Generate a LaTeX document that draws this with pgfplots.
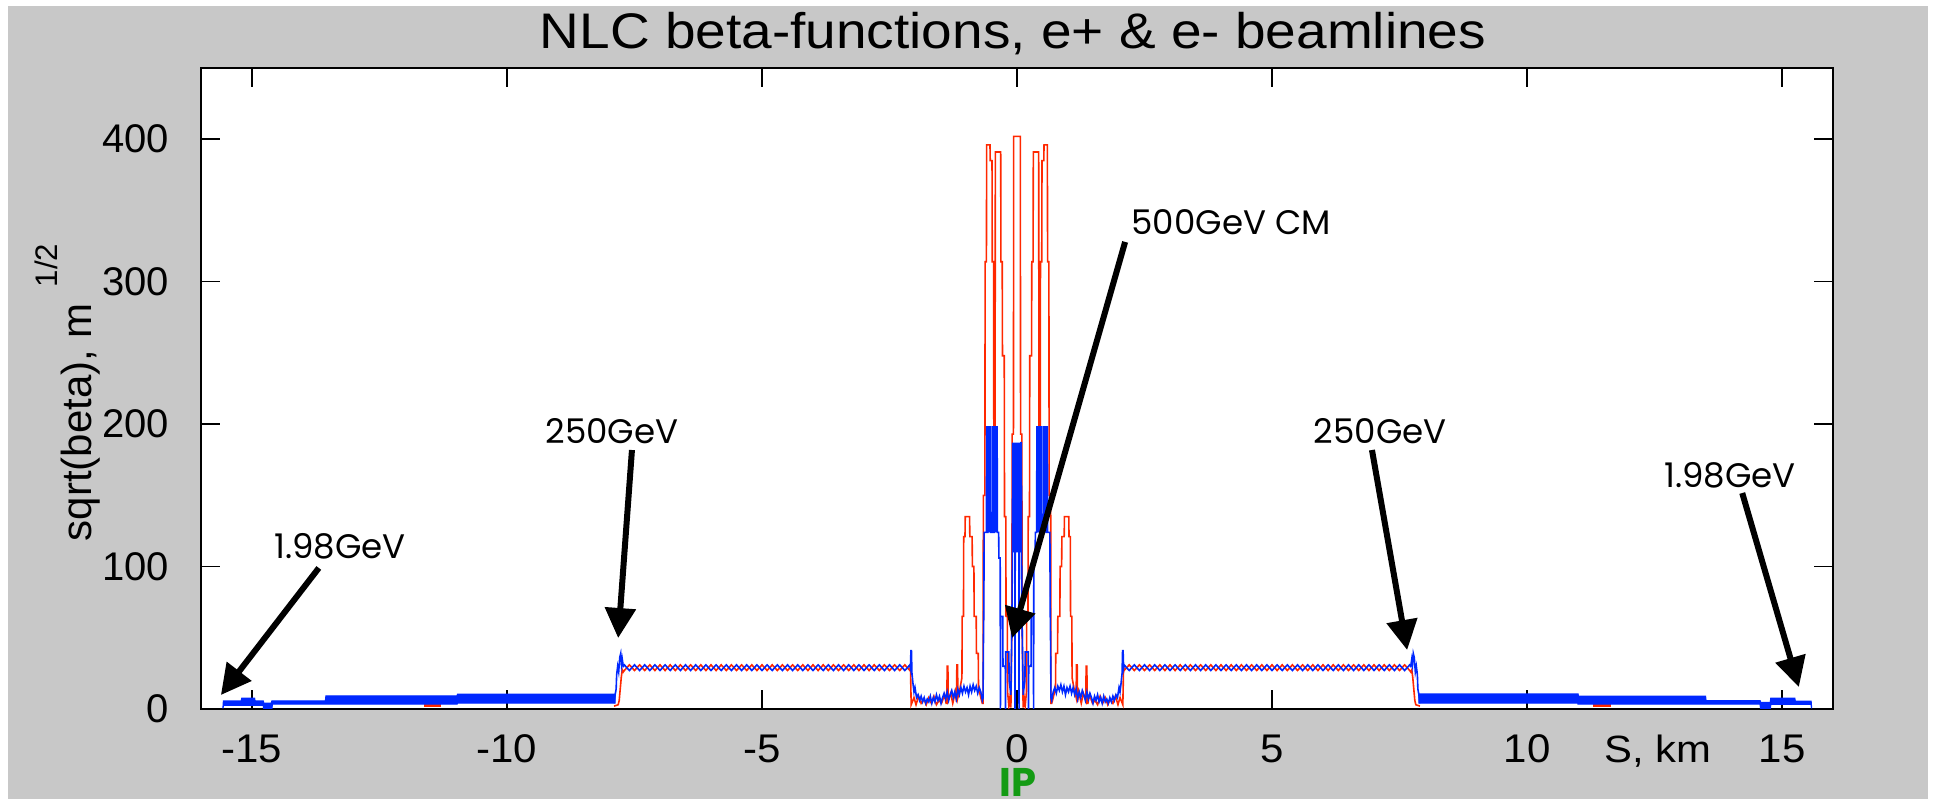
\documentclass[border=0pt]{standalone}
\usepackage{pgfplots}
\pgfplotsset{compat=1.18}
\usepackage{fontspec}
\setmainfont{Liberation Sans}
\newfontfamily\annfont{Poppins}
\usetikzlibrary{arrows.meta}

\definecolor{bgray}{RGB}{200,200,200}
\definecolor{betax}{RGB}{255,40,0}
\definecolor{betay}{RGB}{0,40,255}
\definecolor{ipgreen}{RGB}{20,155,20}

\tikzset{
  callout/.style={-{Triangle[length=7.5pt,width=7.5pt]}, line width=1.5pt, black},
  calltext/.style={font=\annfont\fontsize{8.5}{10}\selectfont, inner sep=0pt},
}

\begin{document}
\begin{tikzpicture}
\path[use as bounding box] (0,0) rectangle (483.25pt,199.75pt);
\fill[white] (0,0) rectangle (483.25pt,199.75pt);
\fill[bgray] (2pt,0) rectangle (482pt,198.25pt);

\begin{axis}[
  at={(50.25pt,22.5pt)}, anchor=south west,
  scale only axis, width=408pt, height=160.25pt,
  xmin=-16, xmax=16, ymin=0, ymax=450,
  xtick={-15,-10,-5,0,5,10,15},
  xticklabels={-15,-10,-5,0,5,10,15},
  ytick={0,100,200,300,400},
  yticklabels={0,100,200,300,400},
  tick align=inside,
  major tick length=4.75pt,
  tick style={black, line width=0.4pt},
  axis line style={black, line width=0.55pt},
  axis background/.style={fill=white},
  clip mode=individual,
  xticklabel style={font=\fontsize{10}{12}\selectfont, xscale=1.05, anchor=base, yshift=-13.5pt},
  yticklabel style={font=\fontsize{10}{12}\selectfont, anchor=east, inner sep=0pt, xshift=-7.85pt},
]

% --- arc sections: dense oscillation drawn as its envelope ---
% x-plane traces peeking out below the y-plane band
\addplot[draw=betax, fill=betax, line width=0.2pt] coordinates {
  (-11.62,1.5) (-11.30,1.5) (-11.30,3.6) (-11.62,3.6)} -- cycle;
\addplot[draw=betax, fill=betax, line width=0.2pt] coordinates {
  (11.30,1.5) (11.64,1.5) (11.64,3.6) (11.30,3.6)} -- cycle;

% y-plane band, negative side
\addplot[draw=betay, fill=betay, line width=0.3pt] coordinates {
  (-15.57,0.5) (-15.56,5.6) (-15.21,5.6) (-15.20,7.6) (-14.95,7.6) (-14.94,5.6)
  (-14.78,5.6) (-14.77,4.0) (-14.62,4.0) (-14.61,5.7) (-13.56,5.7) (-13.55,9.2)
  (-10.98,9.2) (-10.97,10.3) (-7.88,10.3) (-7.88,4.1) (-10.97,4.1) (-10.98,3.4)
  (-14.60,3.4) (-14.61,0.3) (-14.77,0.3) (-14.78,2.6) (-15.56,2.6)} -- cycle;

% y-plane band, positive side
\addplot[draw=betay, fill=betay, line width=0.3pt] coordinates {
  (7.88,10.5) (11.00,10.5) (11.01,8.9) (13.50,8.9) (13.51,5.8) (14.57,5.8)
  (14.58,4.5) (14.77,4.5) (14.78,7.5) (15.25,7.5) (15.26,5.4) (15.57,5.4)
  (15.58,0.5) (15.57,3.3) (14.78,3.3) (14.77,0.3) (14.58,0.3) (14.57,3.5)
  (11.00,3.5) (11.00,4.2) (7.88,4.2)} -- cycle;

% --- x-plane (red): linacs and final focus ---
\addplot[betax, line width=0.4pt] coordinates {
  (-7.90,2) (-7.82,3) (-7.80,6) (-7.78,14) (-7.76,22) (-7.74,27.5) (-7.72,26)
  (-7.7,27) (-7.6,31) (-7.5,27) (-7.4,31) (-7.3,27) (-7.2,31) (-7.1,27) (-7.0,31)
  (-6.9,27) (-6.8,31) (-6.7,27) (-6.6,31) (-6.5,27) (-6.4,31) (-6.3,27) (-6.2,31)
  (-6.1,27) (-6.0,31) (-5.9,27) (-5.8,31) (-5.7,27) (-5.6,31) (-5.5,27) (-5.4,31)
  (-5.3,27) (-5.2,31) (-5.1,27) (-5.0,31) (-4.9,27) (-4.8,31) (-4.7,27) (-4.6,31)
  (-4.5,27) (-4.4,31) (-4.3,27) (-4.2,31) (-4.1,27) (-4.0,31) (-3.9,27) (-3.8,31)
  (-3.7,27) (-3.6,31) (-3.5,27) (-3.4,31) (-3.3,27) (-3.2,31) (-3.1,27) (-3.0,31)
  (-2.9,27) (-2.8,31) (-2.7,27) (-2.6,31) (-2.5,27) (-2.4,31) (-2.3,27) (-2.2,31)
  (-2.1,27)
  (-2.09,31) (-2.075,3) (-2.02,8) (-1.98,3) (-1.93,9) (-1.88,4) (-1.83,7) (-1.78,3)
  (-1.73,8) (-1.68,4) (-1.63,9) (-1.58,3) (-1.53,6) (-1.48,4) (-1.42,10) (-1.39,4)
  (-1.375,4) (-1.37,30) (-1.355,30) (-1.35,6) (-1.30,11) (-1.26,4) (-1.21,12)
  (-1.185,5) (-1.18,31) (-1.165,31) (-1.16,8) (-1.12,14) (-1.08,22) (-1.075,65)
  (-1.05,65) (-1.045,121) (-1.02,121) (-1.015,135) (-0.93,135) (-0.925,121)
  (-0.88,121) (-0.875,100) (-0.845,100) (-0.84,65) (-0.80,65) (-0.795,39) (-0.76,39)
  (-0.755,15) (-0.71,8) (-0.68,4) (-0.665,4) (-0.66,150) (-0.63,150) (-0.625,314)
  (-0.60,314) (-0.595,396) (-0.53,396) (-0.525,385) (-0.49,385) (-0.485,314)
  (-0.46,314) (-0.455,199) (-0.43,199) (-0.425,391) (-0.32,391) (-0.315,314)
  (-0.29,314) (-0.285,248) (-0.25,248) (-0.245,135) (-0.22,135) (-0.215,65)
  (-0.19,65) (-0.185,12) (-0.16,2) (-0.14,8) (-0.12,1) (-0.10,60) (-0.095,193)
  (-0.07,193) (-0.065,402)
  (0.065,402) (0.07,193) (0.095,193) (0.10,60) (0.12,1) (0.14,8) (0.16,2) (0.185,12)
  (0.19,65) (0.215,65) (0.22,135) (0.245,135) (0.25,248) (0.285,248) (0.29,314)
  (0.315,314) (0.32,391) (0.425,391) (0.43,199) (0.455,199) (0.46,314) (0.485,314)
  (0.49,385) (0.525,385) (0.53,396) (0.595,396) (0.60,314) (0.625,314) (0.63,150)
  (0.66,150) (0.665,4) (0.68,4) (0.71,8) (0.755,15) (0.76,39) (0.795,39) (0.80,65)
  (0.84,65) (0.845,100) (0.875,100) (0.88,121) (0.925,121) (0.93,135) (1.015,135)
  (1.02,121) (1.045,121) (1.05,65) (1.075,65) (1.08,22) (1.12,14) (1.16,8)
  (1.165,31) (1.18,31) (1.185,5) (1.21,12) (1.26,4) (1.30,11) (1.35,6) (1.355,30)
  (1.37,30) (1.375,4) (1.39,4) (1.42,10) (1.48,4) (1.53,6) (1.58,3) (1.63,9)
  (1.68,4) (1.73,8) (1.78,3) (1.83,7) (1.88,4) (1.93,9) (1.98,3) (2.02,8) (2.075,3)
  (2.09,31)
  (2.1,27) (2.2,31) (2.3,27) (2.4,31) (2.5,27) (2.6,31) (2.7,27) (2.8,31) (2.9,27)
  (3.0,31) (3.1,27) (3.2,31) (3.3,27) (3.4,31) (3.5,27) (3.6,31) (3.7,27) (3.8,31)
  (3.9,27) (4.0,31) (4.1,27) (4.2,31) (4.3,27) (4.4,31) (4.5,27) (4.6,31) (4.7,27)
  (4.8,31) (4.9,27) (5.0,31) (5.1,27) (5.2,31) (5.3,27) (5.4,31) (5.5,27) (5.6,31)
  (5.7,27) (5.8,31) (5.9,27) (6.0,31) (6.1,27) (6.2,31) (6.3,27) (6.4,31) (6.5,27)
  (6.6,31) (6.7,27) (6.8,31) (6.9,27) (7.0,31) (7.1,27) (7.2,31) (7.3,27) (7.4,31)
  (7.5,27) (7.6,31) (7.7,27)
  (7.72,26) (7.74,27.5) (7.76,22) (7.78,14) (7.80,6) (7.82,3) (7.90,2)
};

% --- y-plane (blue): linacs and final focus ---
\addplot[betay, line width=0.4pt] coordinates {
  (-7.90,4) (-7.88,10) (-7.86,14) (-7.85,24) (-7.83,30) (-7.81,26) (-7.79,36)
  (-7.77,39) (-7.755,31) (-7.74,35) (-7.72,30)
  (-7.7,31) (-7.6,27) (-7.5,31) (-7.4,27) (-7.3,31) (-7.2,27) (-7.1,31) (-7.0,27)
  (-6.9,31) (-6.8,27) (-6.7,31) (-6.6,27) (-6.5,31) (-6.4,27) (-6.3,31) (-6.2,27)
  (-6.1,31) (-6.0,27) (-5.9,31) (-5.8,27) (-5.7,31) (-5.6,27) (-5.5,31) (-5.4,27)
  (-5.3,31) (-5.2,27) (-5.1,31) (-5.0,27) (-4.9,31) (-4.8,27) (-4.7,31) (-4.6,27)
  (-4.5,31) (-4.4,27) (-4.3,31) (-4.2,27) (-4.1,31) (-4.0,27) (-3.9,31) (-3.8,27)
  (-3.7,31) (-3.6,27) (-3.5,31) (-3.4,27) (-3.3,31) (-3.2,27) (-3.1,31) (-3.0,27)
  (-2.9,31) (-2.8,27) (-2.7,31) (-2.6,27) (-2.5,31) (-2.4,27) (-2.3,31) (-2.2,27)
  (-2.1,31)
  (-2.09,29) (-2.08,41) (-2.07,41) (-2.06,25) (-2.04,18) (-2.02,12) (-2.00,15)
  (-1.97,8) (-1.94,10) (-1.91,6) (-1.88,9) (-1.85,5) (-1.82,8) (-1.79,4) (-1.76,7)
  (-1.73,5) (-1.70,9) (-1.67,4) (-1.64,8) (-1.61,5) (-1.58,10) (-1.55,6) (-1.52,9)
  (-1.49,4) (-1.46,8) (-1.43,11) (-1.40,7) (-1.37,12) (-1.34,6) (-1.31,10)
  (-1.28,13) (-1.25,8) (-1.22,12) (-1.19,7) (-1.16,14) (-1.13,10) (-1.10,15)
  (-1.07,11) (-1.04,16) (-1.01,12) (-0.98,15) (-0.95,10) (-0.92,16) (-0.89,12)
  (-0.86,17) (-0.83,13) (-0.80,16) (-0.77,11) (-0.74,15) (-0.71,12) (-0.68,6)
  (-0.665,8) (-0.66,40) (-0.65,73) (-0.645,124) (-0.60,124) (-0.595,198)
  (-0.585,198) (-0.58,124) (-0.57,124) (-0.565,198) (-0.545,198) (-0.54,124)
  (-0.535,198) (-0.52,198) (-0.515,124) (-0.48,124) (-0.475,198) (-0.46,198)
  (-0.455,124) (-0.445,124) (-0.44,198) (-0.42,198) (-0.415,124) (-0.41,198)
  (-0.39,198) (-0.385,124)
  (-0.36,124) (-0.355,106) (-0.33,106) (-0.325,0) (-0.32,65) (-0.28,65) (-0.275,30)
  (-0.23,30) (-0.225,0) (-0.22,40) (-0.16,40) (-0.155,20) (-0.12,10) (-0.10,60)
  (-0.09,110) (-0.085,187) (-0.075,110) (-0.065,187) (-0.055,110) (-0.045,187)
  (-0.04,0) (-0.035,110) (-0.025,187) (-0.015,110) (-0.005,187) (0.005,110)
  (0.015,187) (0.025,110) (0.035,187) (0.04,0) (0.045,110) (0.055,187) (0.065,110)
  (0.075,187) (0.085,187) (0.09,110) (0.10,60) (0.12,10) (0.155,20) (0.16,40)
  (0.22,40) (0.225,0) (0.23,30) (0.275,30) (0.28,65) (0.32,65) (0.325,0) (0.33,106)
  (0.355,106) (0.36,124)
  (0.385,124) (0.39,198) (0.41,198) (0.415,124) (0.42,198) (0.44,198) (0.445,124)
  (0.455,124) (0.46,198) (0.475,198) (0.48,124) (0.515,124) (0.52,198) (0.535,198)
  (0.54,124) (0.545,198) (0.565,198) (0.57,124) (0.58,124) (0.585,198) (0.595,198)
  (0.60,124) (0.645,124) (0.65,73) (0.66,40) (0.665,8)
  (0.68,6) (0.71,12) (0.74,15) (0.77,11) (0.80,16) (0.83,13) (0.86,17) (0.89,12)
  (0.92,16) (0.95,10) (0.98,15) (1.01,12) (1.04,16) (1.07,11) (1.10,15) (1.13,10)
  (1.16,14) (1.19,7) (1.22,12) (1.25,8) (1.28,13) (1.31,10) (1.34,6) (1.37,12)
  (1.40,7) (1.43,11) (1.46,8) (1.49,4) (1.52,9) (1.55,6) (1.58,10) (1.61,5)
  (1.64,8) (1.67,4) (1.70,9) (1.73,5) (1.76,7) (1.79,4) (1.82,8) (1.85,5) (1.88,9)
  (1.91,6) (1.94,10) (1.97,8) (2.00,15) (2.02,12) (2.04,18) (2.06,25) (2.07,41)
  (2.08,41) (2.09,29)
  (2.1,31) (2.2,27) (2.3,31) (2.4,27) (2.5,31) (2.6,27) (2.7,31) (2.8,27) (2.9,31)
  (3.0,27) (3.1,31) (3.2,27) (3.3,31) (3.4,27) (3.5,31) (3.6,27) (3.7,31) (3.8,27)
  (3.9,31) (4.0,27) (4.1,31) (4.2,27) (4.3,31) (4.4,27) (4.5,31) (4.6,27) (4.7,31)
  (4.8,27) (4.9,31) (5.0,27) (5.1,31) (5.2,27) (5.3,31) (5.4,27) (5.5,31) (5.6,27)
  (5.7,31) (5.8,27) (5.9,31) (6.0,27) (6.1,31) (6.2,27) (6.3,31) (6.4,27) (6.5,31)
  (6.6,27) (6.7,31) (6.8,27) (6.9,31) (7.0,27) (7.1,31) (7.2,27) (7.3,31) (7.4,27)
  (7.5,31) (7.6,27) (7.7,31)
  (7.72,30) (7.74,35) (7.755,31) (7.77,39) (7.79,36) (7.81,26) (7.83,30) (7.85,24)
  (7.86,14) (7.88,10) (7.90,4)
};

% --- energy call-outs ---
\draw[callout] (axis cs:-13.69,99) -- (axis cs:-15.61,9.8);
\node[calltext] at (axis cs:-13.27,114.4) {1.98GeV};
\draw[callout] (axis cs:-7.55,181.8) -- (axis cs:-7.82,49.8);
\node[calltext] at (axis cs:-7.94,195.2) {250GeV};
\draw[callout] (axis cs:2.12,327.9) -- (axis cs:-0.098,49.8);
\node[calltext] at (axis cs:4.2,341.9) {500GeV CM};
\draw[callout] (axis cs:6.96,181.8) -- (axis cs:7.65,41.4);
\node[calltext] at (axis cs:7.12,195.2) {250GeV};
\draw[callout] (axis cs:14.22,151.6) -- (axis cs:15.33,15.4);
\node[calltext] at (axis cs:13.98,164.3) {1.98GeV};

% axis label for S, set on the tick-label line
\node[anchor=base, inner sep=0pt, font=\fontsize{9.5}{11}\selectfont, xscale=1.1]
  at ([yshift=-13.5pt]axis cs:12.57,0) {S, km};
\end{axis}

% title
\node[anchor=base, inner sep=0pt, font=\fontsize{12.5}{14}\selectfont, xscale=1.1]
  at (253.25pt,187.5pt) {NLC beta-functions, e+ \& e- beamlines};

% y label with raised exponent
\node[rotate=90, anchor=base west, inner sep=0pt,
      font=\fontsize{10.5}{13}\selectfont]
  at (22.75pt,64.25pt) {sqrt(beta), m\kern4pt\raisebox{8.5pt}{\fontsize{7.8}{9}\selectfont 1/2}};

% interaction point marker under the axis
\node[anchor=north, inner sep=0pt, text=ipgreen, font=\annfont\bfseries\fontsize{10}{12}\selectfont]
  at (254.5pt,7.75pt) {IP};
\end{tikzpicture}
\end{document}
